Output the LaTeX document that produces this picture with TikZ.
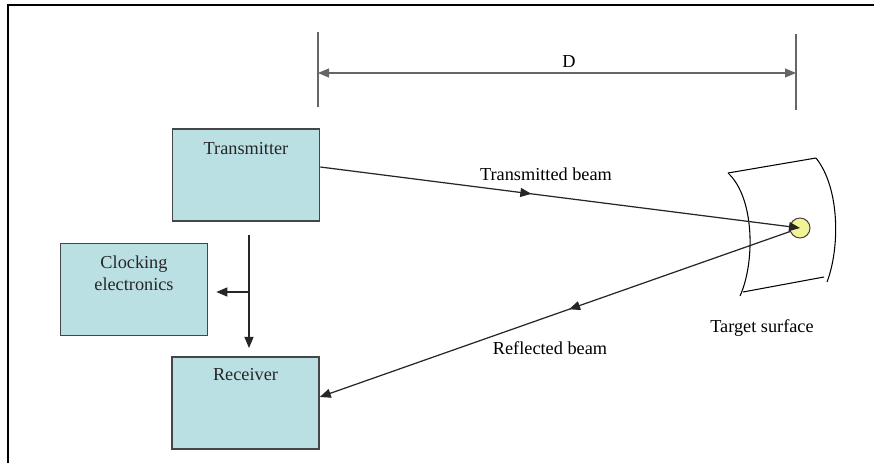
\documentclass[tikz,border=0pt]{standalone}
\usepackage{fontspec}
\setmainfont{Liberation Serif}
\usepackage{tikz}
\usetikzlibrary{arrows.meta}
\usetikzlibrary{decorations.markings}

\definecolor{boxfill}{RGB}{186,224,228}
\definecolor{boxline}{RGB}{70,70,70}
\definecolor{spotfill}{RGB}{242,242,150}

\begin{document}
\begin{tikzpicture}[
  unitbox/.style={draw=boxline,line width=0.9pt,fill=boxfill,minimum width=2.94cm,minimum height=1.84cm,inner sep=0pt},
  boxtext/.style={anchor=center,align=center,text=black!85},
  beam/.style={line width=0.7pt,draw=black!85},
  dimline/.style={line width=0.6pt,draw=black!60},
  midarrow/.style={postaction={decorate},decoration={markings,mark=at position #1 with {\arrow{>}}}},
  >={Triangle[length=0.22cm,width=0.18cm]}
]
  \fontsize{10.4}{12.5}\selectfont
  \useasboundingbox (0,0) rectangle (17.48,9.26);
  \draw[line width=1.5pt] (0.16,0) -- (0.16,9.16) -- (17.48,9.16);

  % distance to target
  \coordinate (dl) at (6.36,7.8);
  \coordinate (dr) at (15.92,7.8);
  \draw[dimline] (6.36,8.62) -- (6.36,7.12);
  \draw[dimline] (15.92,8.58) -- (15.92,7.06);
  \draw[dimline,<->] (dl) -- (dr);
  \node (dist) at (11.38,8.02) {D};

  % boxes
  \node (tx) at (4.92,5.76) [unitbox,label={[boxtext,yshift=-0.4cm]north:Transmitter}] {};
  \node (ck) at (2.68,3.47) [unitbox,label={[boxtext,yshift=-0.62cm]north:{Clocking\\electronics}}] {};
  \node (rx) at (4.91,1.2) [unitbox,label={[boxtext,yshift=-0.37cm]north:Receiver}] {};

  % target
  \draw[line width=0.6pt] (14.56,5.80) -- (16.32,6.10);
  \draw[line width=0.6pt] (14.56,5.80) .. controls (15.1,5.3) and (15.1,4.0) .. (14.80,3.34);
  \draw[line width=0.6pt] (16.32,6.10) .. controls (16.8,5.5) and (16.8,4.3) .. (16.54,3.62);
  \draw[line width=0.6pt] (14.86,3.42) -- (16.48,3.72);
  \node (spot) at (16.0,4.70) [circle,draw=boxline,fill=spotfill,minimum size=0.4cm,inner sep=0pt,line width=0.6pt] {};
  \node (surf) at (15.24,2.70) {Target surface};

  % beams
  \draw[beam,midarrow=0.44,->] ([yshift=0.16cm]tx.east) -- (spot.center);
  \node (tbeam) at (10.92,5.78) {Transmitted beam};
  \draw[beam,midarrow=0.47,->] (spot) -- ([yshift=0.12cm]rx.east);
  \node (rbeam) at (11.0,2.30) {Reflected beam};

  % timing path
  \coordinate (split) at (4.98,3.42);
  \draw[beam,->,shorten <=0.28cm,shorten >=0.18cm] (4.98,4.84) -- (4.98,2.12);
  \draw[beam,->,shorten >=0.16cm] (split) -- (ck.east |- split);
\end{tikzpicture}
\end{document}
